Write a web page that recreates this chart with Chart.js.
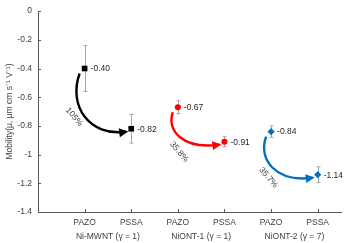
<!DOCTYPE html>
<html>
<head>
<meta charset="utf-8">
<script src="https://cdn.jsdelivr.net/npm/chart.js@4.4.1/dist/chart.umd.min.js"></script>
<style>
  html, body { margin: 0; padding: 0; background: #fff; }
  #wrap { width: 350px; height: 243px; }
</style>
</head>
<body>
<div id="wrap"><canvas id="mobility-chart"></canvas></div>
<script>
// values
const categories = ['PAZO', 'PSSA', 'PAZO', 'PSSA', 'PAZO', 'PSSA'];
const groups = ['Ni-MWNT (\u03b3 = 1)', 'NiONT-1 (\u03b3 = 1)', 'NiONT-2 (\u03b3 = 7)'];
const xPos = [1, 2, 3, 4, 5, 6];
const groupPos = [1.5, 3.5, 5.5];
const mobility = [-0.40, -0.82, -0.67, -0.91, -0.84, -1.14];
const errors = [0.16, 0.10, 0.045, 0.035, 0.04, 0.055];
const changes = ['105%', '35.8%', '35.7%'];
const yTicks = [0, -0.2, -0.4, -0.6, -0.8, -1, -1.2, -1.4];

const colors = ['#000000', '#ff0000', '#0070c0'];
const markers = ['rect', 'circle', 'rectRot'];
const radii = [4, 3, 3.6];
const textColor = '#404040';
const axisColor = '#595959';
const fontFamily = 'Liberation Sans, Arial, sans-serif';
const font = { family: fontFamily, size: 8.5 };

let datasets = groups.map((g, i) => ({
    label: g,
    data: [0, 1].map(k => ({ x: xPos[i * 2 + k], y: mobility[i * 2 + k] })),
    showLine: false,
    pointStyle: markers[i],
    pointRadius: radii[i],
    backgroundColor: colors[i],
    borderColor: colors[i],
    borderWidth: 0,
    errs: [errors[i * 2], errors[i * 2 + 1]]
}));

// error bars, value labels, inner ticks
const decorations = {
    id: 'decorations',
    beforeDatasetsDraw(chart) {
        const ctx = chart.ctx;
        const y = chart.scales.y;
        ctx.save();
        ctx.strokeStyle = '#a6a6a6';
        ctx.lineWidth = 1;
        chart.data.datasets.forEach((ds, i) => {
            chart.getDatasetMeta(i).data.forEach((pt, k) => {
                let v = ds.data[k].y, e = ds.errs[k];
                let top = y.getPixelForValue(v + e), bot = y.getPixelForValue(v - e);
                let px = Math.round(pt.x) + 0.5;
                ctx.beginPath();
                ctx.moveTo(px, top); ctx.lineTo(px, bot);
                ctx.moveTo(px - 2, top); ctx.lineTo(px + 2, top);
                ctx.moveTo(px - 2, bot); ctx.lineTo(px + 2, bot);
                ctx.stroke();
            });
        });
        ctx.restore();
    },
    afterDraw(chart) {
        const ctx = chart.ctx;
        const area = chart.chartArea;
        const xs = chart.scales.x, ys = chart.scales.y;
        ctx.save();
        // inward tick marks
        ctx.strokeStyle = axisColor;
        ctx.lineWidth = 1;
        ctx.beginPath();
        yTicks.forEach(t => {
            let py = Math.round(ys.getPixelForValue(t)) + 0.5;
            ctx.moveTo(area.left, py); ctx.lineTo(area.left + 3, py);
        });
        xPos.forEach(t => {
            let px = Math.round(xs.getPixelForValue(t)) + 0.5;
            ctx.moveTo(px, area.bottom); ctx.lineTo(px, area.bottom - 3);
        });
        ctx.stroke();
        // value labels
        ctx.fillStyle = '#262626';
        ctx.font = '8.5px ' + fontFamily;
        ctx.textAlign = 'left';
        ctx.textBaseline = 'middle';
        chart.data.datasets.forEach((ds, i) => {
            chart.getDatasetMeta(i).data.forEach((pt, k) => {
                ctx.fillText(ds.data[k].y.toFixed(2), pt.x + 6, pt.y + 0.5);
            });
        });
        ctx.restore();
    }
};

// curved arrows from PAZO to PSSA with the change in percent
const arrows = {
    id: 'arrows',
    afterDatasetsDraw(chart) {
        const ctx = chart.ctx;
        ctx.save();
        chart.data.datasets.forEach((ds, i) => {
            let pts = chart.getDatasetMeta(i).data;
            let p1 = pts[0], p2 = pts[1];
            let sx = p1.x - 5, sy = p1.y + 5;
            let ex = p2.x - 5, ey = p2.y + 3;
            let dx = ex - sx, dy = ey - sy;
            let c1x = sx - 0.2 * dy, c1y = sy + 0.55 * dy;
            let c2x = ex - 0.8 * dx, c2y = ey + 5;
            ctx.strokeStyle = colors[i];
            ctx.fillStyle = colors[i];
            ctx.lineWidth = 2.4;
            ctx.lineCap = 'butt';
            ctx.beginPath();
            ctx.moveTo(sx, sy);
            ctx.bezierCurveTo(c1x, c1y, c2x, c2y, ex, ey);
            ctx.stroke();
            // head
            let ang = Math.atan2(ey - c2y, ex - c2x);
            let ca = Math.cos(ang), sa = Math.sin(ang);
            let tx = ex + 2 * ca, ty = ey + 2 * sa;
            ctx.beginPath();
            ctx.moveTo(tx, ty);
            ctx.lineTo(tx - 9 * ca + 4.5 * sa, ty - 9 * sa - 4.5 * ca);
            ctx.lineTo(tx - 9 * ca - 4.5 * sa, ty - 9 * sa + 4.5 * ca);
            ctx.closePath();
            ctx.fill();
            // percent label, outside the bend of the arrow
            let lx = p1.x - (dy - 35) * 0.45;
            let ly = p1.y + 45 + (dy - 35) * 0.15;
            ctx.save();
            ctx.translate(lx, ly);
            ctx.rotate(Math.PI / 4 + 0.08);
            ctx.fillStyle = textColor;
            ctx.font = '8.5px ' + fontFamily;
            ctx.textAlign = 'center';
            ctx.textBaseline = 'middle';
            ctx.fillText(changes[i], 0, 0);
            ctx.restore();
        });
        ctx.restore();
    }
};

new Chart(document.getElementById('mobility-chart'), {
    type: 'scatter',
    data: { datasets: datasets },
    options: {
        responsive: true,
        maintainAspectRatio: false,
        animation: false,
        layout: { padding: { top: 4, right: 9, left: 0, bottom: 0 } },
        plugins: {
            legend: { display: false },
            tooltip: { enabled: false }
        },
        scales: {
            x: {
                type: 'linear',
                min: 0,
                max: 6.5,
                weight: 0,
                afterBuildTicks: (scale) => { scale.ticks = xPos.map(v => ({ value: v })); },
                afterFit: (scale) => { scale.height = 16; },
                grid: { display: false, drawTicks: false },
                border: { display: true, color: axisColor, width: 1 },
                ticks: {
                    autoSkip: false,
                    maxRotation: 0,
                    padding: 6,
                    color: textColor,
                    font: font,
                    callback: (v, idx) => categories[idx]
                }
            },
            x2: {
                type: 'linear',
                position: 'bottom',
                min: 0,
                max: 6.5,
                weight: 1,
                afterBuildTicks: (scale) => { scale.ticks = groupPos.map(v => ({ value: v })); },
                afterFit: (scale) => { scale.height = 15; },
                grid: { display: false, drawTicks: false },
                border: { display: false },
                ticks: {
                    autoSkip: false,
                    maxRotation: 0,
                    padding: 4,
                    color: textColor,
                    font: font,
                    callback: (v, idx) => groups[idx]
                }
            },
            y: {
                min: -1.4,
                max: 0,
                afterBuildTicks: (scale) => { scale.ticks = yTicks.map(v => ({ value: v })); },
                afterFit: (scale) => { scale.width = 38; },
                grid: { display: false, drawTicks: false },
                border: { display: true, color: axisColor, width: 1 },
                title: {
                    display: true,
                    text: 'Mobility(\u03bc, \u03bcm cm s\u207b\u00b9 V\u207b\u00b9)',
                    color: textColor,
                    font: font,
                    padding: { top: 5, bottom: 0 }
                },
                ticks: {
                    padding: 6,
                    color: textColor,
                    font: font,
                    callback: (v) => String(+v.toFixed(1))
                }
            }
        }
    },
    plugins: [decorations, arrows]
});
</script>
</body>
</html>
